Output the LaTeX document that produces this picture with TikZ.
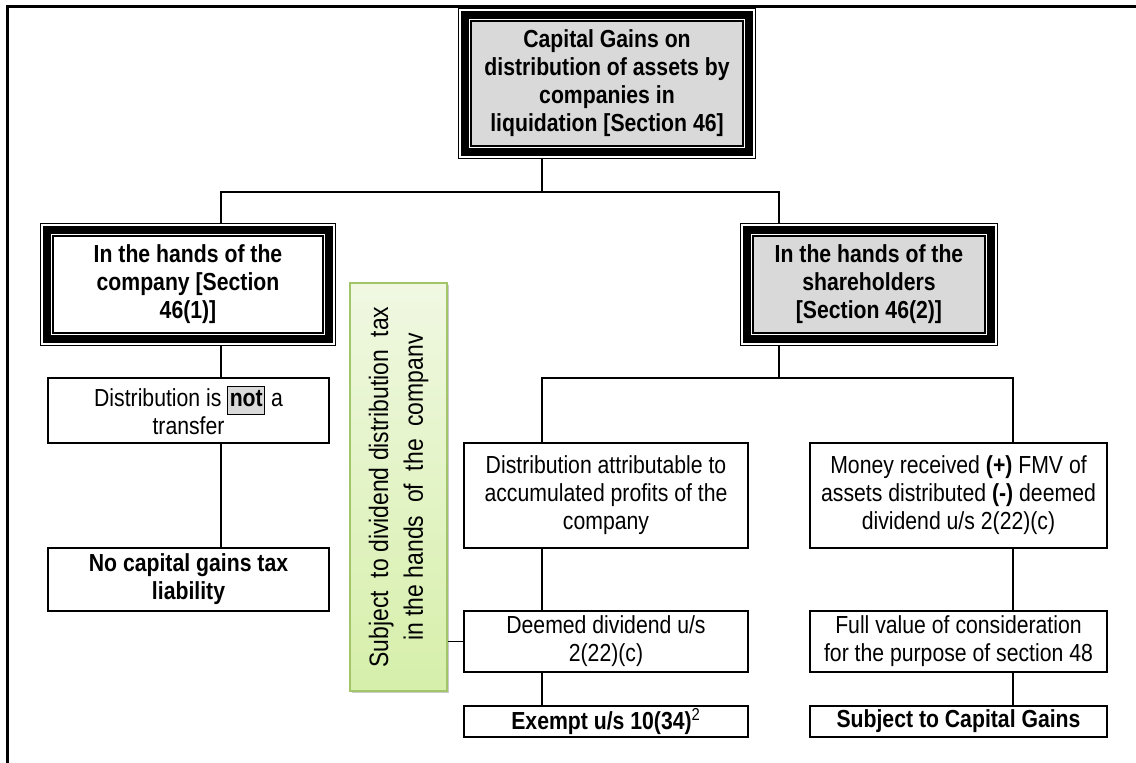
\documentclass[tikz,border=0pt]{standalone}
\usepackage{fontspec}
\setmainfont{Liberation Sans}[FakeStretch=0.86]
\usetikzlibrary{calc,shadows}
\definecolor{boxgray}{HTML}{D9D9D9}
\definecolor{gA}{HTML}{F0F8E2}
\definecolor{gB}{HTML}{D6EFAA}
\definecolor{gBorder}{HTML}{A3C56A}
\setlength{\fboxsep}{1pt}
\setlength{\fboxrule}{0.8pt}
\newcommand\mkbox[7]{\node[#2,minimum width={(#5-#3)*0.75pt},minimum height={(#6-#4)*0.75pt}] (#1) at ({(#3+#5)/2},{(#4+#6)/2}) {#7};}
\begin{document}
\begin{tikzpicture}[x=0.75pt,y=-0.75pt,
  txt/.style={font=\fontsize{18.5}{21}\selectfont},
  txtb/.style={font=\fontsize{18.5}{21}\selectfont\bfseries},
  dbl/.style={draw=none,fill=white,inner sep=0pt,align=center,txtb,
    path picture={
      \draw[line width=0.975pt] ([shift={(0.65,0.65)}]path picture bounding box.north west) rectangle ([shift={(-0.65,-0.65)}]path picture bounding box.south east);
      \draw[line width=5.5pt] ([shift={(6.95,6.95)}]path picture bounding box.north west) rectangle ([shift={(-6.95,-6.95)}]path picture bounding box.south east);
      \draw[line width=0.975pt,fill=#1] ([shift={(12.95,12.95)}]path picture bounding box.north west) rectangle ([shift={(-12.95,-12.95)}]path picture bounding box.south east);
    }},
  pbox/.style={draw,line width=1.1pt,fill=white,inner sep=0pt,align=center,txt},
  pboxb/.style={pbox,txtb},
  greenbox/.style={draw=gBorder,line width=0.8pt,top color=gA,bottom color=gB,inner sep=0pt,
    drop shadow={shadow xshift=1.5pt,shadow yshift=-1.5pt,opacity=0.35,fill=black!60},
    font=\fontsize{20}{26}\selectfont},
  conn/.style={line width=1.1pt},
  frame/.style={line width=2.25pt,line join=miter}]
\useasboundingbox (0,0) rectangle (1136,763);
\draw[frame] (7,763) -- (7,7) -- (1136,7);

\mkbox{top}{dbl=boxgray}{458}{8}{756}{159}{Capital Gains on\\distribution of assets by\\companies in\\liquidation [Section 46]}
\mkbox{comp}{dbl=white}{40}{223}{336}{346}{In the hands of the\\company [Section\\46(1)]}
\mkbox{share}{dbl=boxgray}{740}{223}{998}{346}{In the hands of the\\shareholders\\{}[Section 46(2)]}

\mkbox{notx}{pbox}{48}{378}{329}{443}{Distribution is \fcolorbox{black}{boxgray}{\rule[-4.5pt]{0pt}{18.5pt}\textbf{not}} a\\transfer}
\mkbox{nocap}{pboxb}{48}{548}{329}{611}{No capital gains tax\\liability}

\mkbox{note}{greenbox}{350}{283}{447}{691}{\rotatebox{90}{\begin{tabular}{@{}c@{}}Subject\ \ to dividend distribution\ \ tax\\ in the hands\ \ of\ \ the\ \ companv\end{tabular}}}

\mkbox{attr}{pbox}{464}{443}{748}{548}{Distribution attributable to\\accumulated profits of the\\company}
\mkbox{deem}{pbox}{464}{611}{748}{672}{Deemed dividend u/s\\2(22)(c)}
\mkbox{exempt}{pboxb}{464}{706}{748}{737}{Exempt u/s 10(34)\textsuperscript{\mdseries 2}}

\mkbox{money}{pbox}{810}{443}{1107}{548}{Money received \textbf{(+)} FMV of\\assets distributed \textbf{(-)} deemed\\dividend u/s 2(22)(c)}
\mkbox{full}{pbox}{810}{611}{1107}{672}{Full value of consideration\\for the purpose of section 48}
\mkbox{subj}{pboxb}{810}{706}{1107}{737}{Subject to Capital Gains}

\coordinate (xl) at (221,0);
\coordinate (xa) at (542,0);
\coordinate (xr) at (779,0);
\coordinate (xm) at (1013,0);
\coordinate (j1) at (542,192);
\coordinate (j2) at (779,378);

\draw[conn] (top.south -| xa) -- (j1);
\draw[conn] (comp.north -| xl) |- (j1) -| (share.north -| xr);
\draw[conn] (comp.south -| xl) -- (notx.north -| xl);
\draw[conn] (notx.south -| xl) -- (nocap.north -| xl);
\draw[conn] (share.south -| xr) -- (j2);
\draw[conn] (attr.north -| xa) |- (j2) -| (money.north -| xm);
\draw[conn] (attr.south -| xa) -- (deem.north -| xa);
\draw[conn] (deem.south -| xa) -- (exempt.north -| xa);
\draw[conn] (money.south -| xm) -- (full.north -| xm);
\draw[conn] (full.south -| xm) -- (subj.north -| xm);
\draw[conn] (note.east |- deem.west) -- (deem.west);
\end{tikzpicture}
\end{document}
